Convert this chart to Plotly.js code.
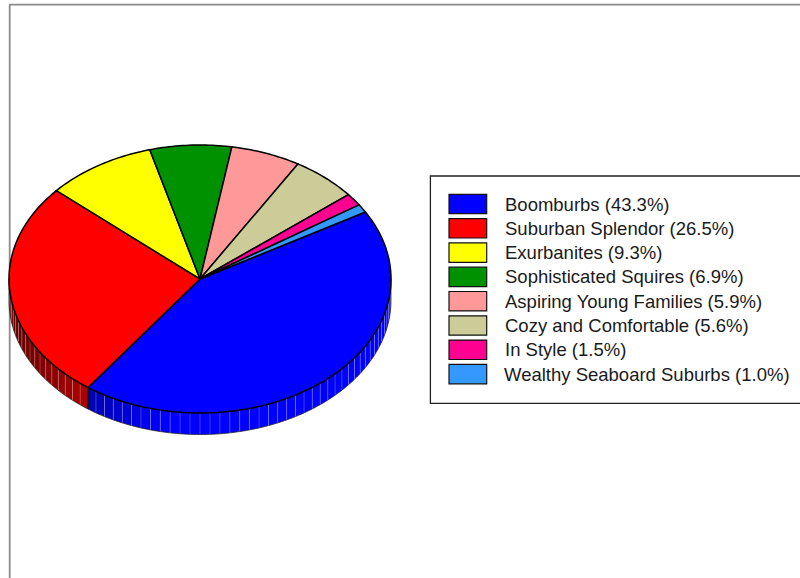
<!DOCTYPE html>
<html><head><meta charset="utf-8">
<script src="https://cdn.plot.ly/plotly-3.0.0.min.js"></script>
<style>html,body{margin:0;padding:0;background:#fff}</style></head>
<body><div id="chart" style="width:800px;height:578px"></div>
<script>
var categories = ["Boomburbs","Suburban Splendor","Exurbanites","Sophisticated Squires","Aspiring Young Families","Cozy and Comfortable","In Style","Wealthy Seaboard Suburbs"];
var shares = [43.3,26.5,9.3,6.9,5.9,5.6,1.5,1.0];
var sliceColors = [[0,0,255],[255,0,0],[255,255,0],[0,145,0],[255,153,153],[204,204,153],[255,0,145],[51,153,255]];

var cx=200, cy=279, rx=191, ry=134, depth=21.5, startDeg=30, slat=3;
function px(d){return cx+rx*Math.cos(d*Math.PI/180);}
function py(d,off){return cy-ry*Math.sin(d*Math.PI/180)+(off||0);}
function rgb(c,f){return 'rgb('+c.map(function(v){return Math.round(v*(f===undefined?1:f));}).join(',')+')';}
function base(o){o.type='scatter';o.mode='lines';o.showlegend=false;o.hoverinfo='skip';return o;}

var walls=[], seams=[], tops=[], edges=[];
var cursor=startDeg;
shares.forEach(function(v,i){
  var a0=cursor, a1=cursor-v*3.6; cursor=a1;
  var xs=[cx], ys=[cy], n=Math.max(2,Math.ceil(a0-a1));
  for(var k=0;k<=n;k++){var d=a0+(a1-a0)*k/n; xs.push(px(d)); ys.push(py(d));}
  xs.push(cx); ys.push(cy);
  tops.push(base({x:xs,y:ys,fill:'toself',fillcolor:rgb(sliceColors[i]),line:{color:'#000',width:1.5,simplify:false}}));
  var hi=Math.min(a0,0), lo=Math.max(a1,-180);
  if(hi>lo){
    for(var a=hi;a>lo;a-=slat){
      var b=Math.max(a-slat,lo), wx=[],wy=[];
      for(var s=0;s<=3;s++){var e=a+(b-a)*s/3; wx.push(px(e)); wy.push(py(e));}
      for(s=3;s>=0;s--){var e2=a+(b-a)*s/3; wx.push(px(e2)); wy.push(py(e2,depth));}
      wx.push(wx[0]); wy.push(wy[0]);
      var t=((px((a+b)/2))-(cx-rx))/rx;
      var f=Math.min(1,0.38+0.75*t);
      walls.push(base({x:wx,y:wy,fill:'toself',fillcolor:rgb(sliceColors[i],f),line:{width:0,simplify:false}}));
      if(b>lo){seams.push(base({x:[px(b),px(b)],y:[py(b),py(b,depth)],line:{color:'rgba(255,255,255,0.22)',width:1}}));}
    }
    if(lo>-180){edges.push(base({x:[px(lo),px(lo)],y:[py(lo),py(lo,depth)],line:{color:'#000',width:1.2}}));}
  }
});
var bx=[],by=[];
for(var d=-180;d<=0;d+=1){bx.push(px(d)); by.push(py(d,depth));}
edges.push(base({x:bx,y:by,line:{color:'#222',width:0.75,simplify:false}}));
edges.push(base({x:[px(-180),px(-180)],y:[py(-180),py(-180,depth)],line:{color:'#222',width:0.75}}));
edges.push(base({x:[px(0),px(0)],y:[py(0),py(0,depth)],line:{color:'#222',width:0.75}}));

var shapes=[
 {type:'line',xref:'x',yref:'y',x0:9.7,x1:9.7,y0:4.7,y1:590,line:{color:'#8c8c8c',width:1.8},layer:'below'},
 {type:'line',xref:'x',yref:'y',x0:9,x1:810,y0:4.7,y1:4.7,line:{color:'#8c8c8c',width:1.8},layer:'below'},
 {type:'rect',xref:'x',yref:'y',x0:430.4,x1:812,y0:176,y1:403.3,line:{color:'#222',width:1.3},fillcolor:'#fff',layer:'below'}
];
var annotations=[];
categories.forEach(function(c,i){
  var y0=194.3+24.3*i;
  shapes.push({type:'rect',xref:'x',yref:'y',x0:449,x1:486.7,y0:y0,y1:y0+19.4,line:{color:'#111',width:1.2},fillcolor:rgb(sliceColors[i])});
  annotations.push({xref:'x',yref:'y',x:i===7?503.5:505,y:y0+9.7,xanchor:'left',yanchor:'middle',showarrow:false,
    text:c+' ('+shares[i].toFixed(1)+'%)',font:{family:'"Liberation Sans",Arial,sans-serif',size:18.5,color:'#1a1a1a'},borderpad:0,borderwidth:0});
});

Plotly.newPlot('chart',walls.concat(seams,edges,tops),{
  width:800,height:578,margin:{l:0,r:0,t:0,b:0,pad:0},paper_bgcolor:'#fff',plot_bgcolor:'#fff',showlegend:false,
  xaxis:{range:[0,800],visible:false,fixedrange:true},
  yaxis:{range:[578,0],visible:false,fixedrange:true},
  shapes:shapes,annotations:annotations
},{staticPlot:true,displayModeBar:false});
</script></body></html>
